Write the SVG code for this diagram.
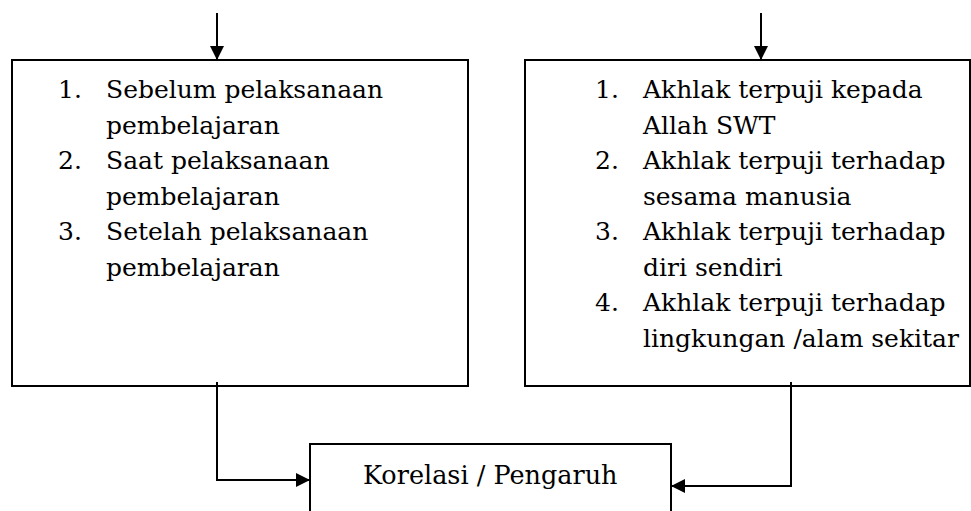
<svg xmlns="http://www.w3.org/2000/svg" width="971" height="511" viewBox="0 0 971 511">
<style>
.box{fill:#fff;stroke:#000;stroke-width:2}
.t{font-family:'DejaVu Serif',serif;font-size:25px;fill:#000}
.c{fill:none;stroke:#000;stroke-width:2}
</style>
<defs>
<marker id="ah" viewBox="0 0 10 10" refX="10" refY="5" markerWidth="16" markerHeight="14" markerUnits="userSpaceOnUse" orient="auto"><path d="M0,0 L10,5 L0,10 Z" fill="#000"/></marker>
</defs>
<rect width="971" height="511" fill="#fff"/>
<g id="left-box">
<rect class="box" x="12" y="60" width="456" height="326"/>
<text class="t"><tspan x="58" y="98">1.</tspan><tspan x="106" y="98">Sebelum pelaksanaan</tspan><tspan x="106" y="134">pembelajaran</tspan><tspan x="58" y="169">2.</tspan><tspan x="106" y="169">Saat pelaksanaan</tspan><tspan x="106" y="205">pembelajaran</tspan><tspan x="58" y="240">3.</tspan><tspan x="106" y="240">Setelah pelaksanaan</tspan><tspan x="106" y="276">pembelajaran</tspan></text>
</g>
<g id="right-box">
<rect class="box" x="525" y="60" width="445" height="326"/>
<text class="t"><tspan x="595" y="98">1.</tspan><tspan x="643" y="98">Akhlak terpuji kepada</tspan><tspan x="643" y="134">Allah SWT</tspan><tspan x="595" y="169">2.</tspan><tspan x="643" y="169">Akhlak terpuji terhadap</tspan><tspan x="643" y="205">sesama manusia</tspan><tspan x="595" y="240">3.</tspan><tspan x="643" y="240">Akhlak terpuji terhadap</tspan><tspan x="643" y="276">diri sendiri</tspan><tspan x="595" y="311">4.</tspan><tspan x="643" y="311">Akhlak terpuji terhadap</tspan><tspan x="643" y="347">lingkungan /alam sekitar</tspan></text>
</g>
<g id="result-box">
<rect class="box" x="310" y="444" width="361" height="80"/>
<text class="t" x="363" y="484" style="font-size:25.5px">Korelasi / Pengaruh</text>
</g>
<g id="connectors">
<line class="c" x1="217" y1="13" x2="217" y2="60" marker-end="url(#ah)"/>
<line class="c" x1="761" y1="13" x2="761" y2="60" marker-end="url(#ah)"/>
<polyline class="c" points="217,382 217,480 310,480" marker-end="url(#ah)"/>
<polyline class="c" points="791,382 791,486 671,486" marker-end="url(#ah)"/>
</g>
</svg>
